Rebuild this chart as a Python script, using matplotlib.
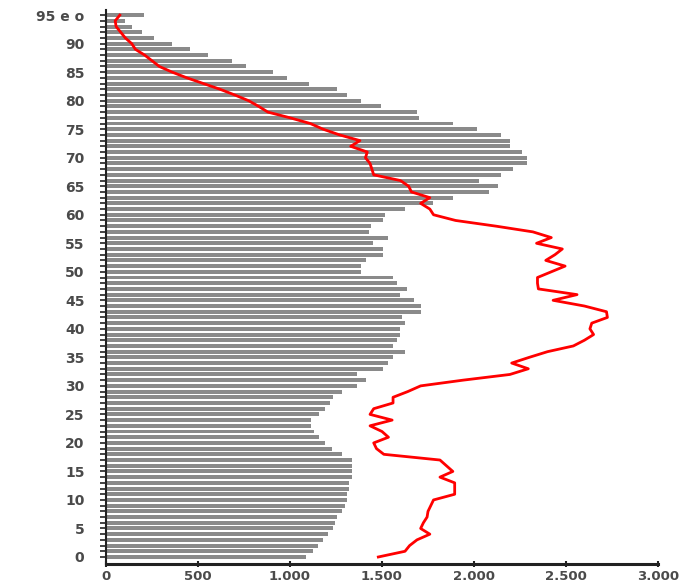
import numpy as np
import matplotlib.pyplot as plt

# ages 0..95 ("95 e o" = 95 e oltre)
ages = np.arange(96)

# grey bars (one per age)
bar_values = [
    1087, 1123, 1150, 1178, 1205, 1232, 1245, 1255, 1283, 1300,
    1310, 1310, 1320, 1320, 1337, 1337, 1337, 1337, 1283, 1230,
    1188, 1160, 1131, 1112, 1112, 1160, 1188, 1215, 1236, 1283,
    1362, 1411, 1362, 1503, 1531, 1560, 1625, 1560, 1580, 1598,
    1598, 1625, 1607, 1712, 1712, 1674, 1598, 1636, 1580, 1560,
    1386, 1386, 1411, 1505, 1505, 1449, 1531, 1429, 1438, 1503,
    1514, 1625, 1775, 1884, 2080, 2129, 2027, 2145, 2210, 2286,
    2286, 2259, 2196, 2196, 2145, 2014, 1884, 1699, 1688, 1493,
    1386, 1308, 1254, 1103, 982, 906, 759, 683, 553, 457,
    357, 261, 194, 143, 103, 207,
]

# red line (one point per age)
line_values = [
    1480, 1625, 1650, 1690, 1760, 1710, 1725, 1745, 1750, 1765,
    1780, 1895, 1895, 1895, 1815, 1885, 1850, 1815, 1510, 1470,
    1455, 1535, 1500, 1435, 1555, 1435, 1455, 1560, 1560, 1640,
    1710, 1940, 2195, 2295, 2205, 2300, 2400, 2540, 2600, 2650,
    2630, 2640, 2725, 2720, 2600, 2430, 2560, 2350, 2345, 2345,
    2420, 2495, 2390, 2440, 2480, 2340, 2420, 2320, 2120, 1900,
    1780, 1760, 1710, 1760, 1660, 1645, 1600, 1455, 1445, 1435,
    1410, 1420, 1330, 1380, 1270, 1180, 1110, 1000, 880, 830,
    775, 700, 620, 530, 440, 360, 290, 250, 210, 160,
    140, 105, 80, 55, 50, 75,
]

y_ticks = list(range(0, 96, 5))
y_labels = [str(v) for v in range(0, 95, 5)] + ['95 e o']
x_ticks = [0, 500, 1000, 1500, 2000, 2500, 3000]
x_labels = ['0', '500', '1.000', '1.500', '2.000', '2.500', '3.000']

fig = plt.figure(figsize=(6.8, 5.83), dpi=100)
ax = fig.add_axes([106 / 680, 1 - 564 / 583, 552 / 680, 554 / 583])

ax.barh(ages, bar_values, height=0.7, color='#8a8a8a', zorder=2)
ax.plot(line_values, ages, color='#ff0000', linewidth=2.0, zorder=3)

ax.set_xlim(0, 3000)
ax.set_ylim(-1.23, 95.9)

ax.set_yticks(y_ticks)
ax.set_yticklabels(y_labels)
ax.set_yticks(ages, minor=True)
ax.set_xticks(x_ticks)
ax.set_xticklabels(x_labels)

ax.tick_params(axis='y', which='both', direction='inout', length=9, width=1.2,
               color='#222222', labelsize=10, labelcolor='#4a4a4a', pad=11)
ax.tick_params(axis='x', which='major', direction='inout', length=5, width=1.5,
               color='#222222', labelsize=9.5, labelcolor='#4a4a4a', pad=2)

for t in ax.get_xticklabels() + ax.get_yticklabels():
    t.set_fontweight('bold')

for side in ['top', 'right']:
    ax.spines[side].set_visible(False)
ax.spines['left'].set_color('#222222')
ax.spines['left'].set_linewidth(1.5)
ax.spines['bottom'].set_color('#222222')
ax.spines['bottom'].set_linewidth(2.2)
ax.set_facecolor('white')

fig.savefig('out.png', dpi=100, facecolor='white')
